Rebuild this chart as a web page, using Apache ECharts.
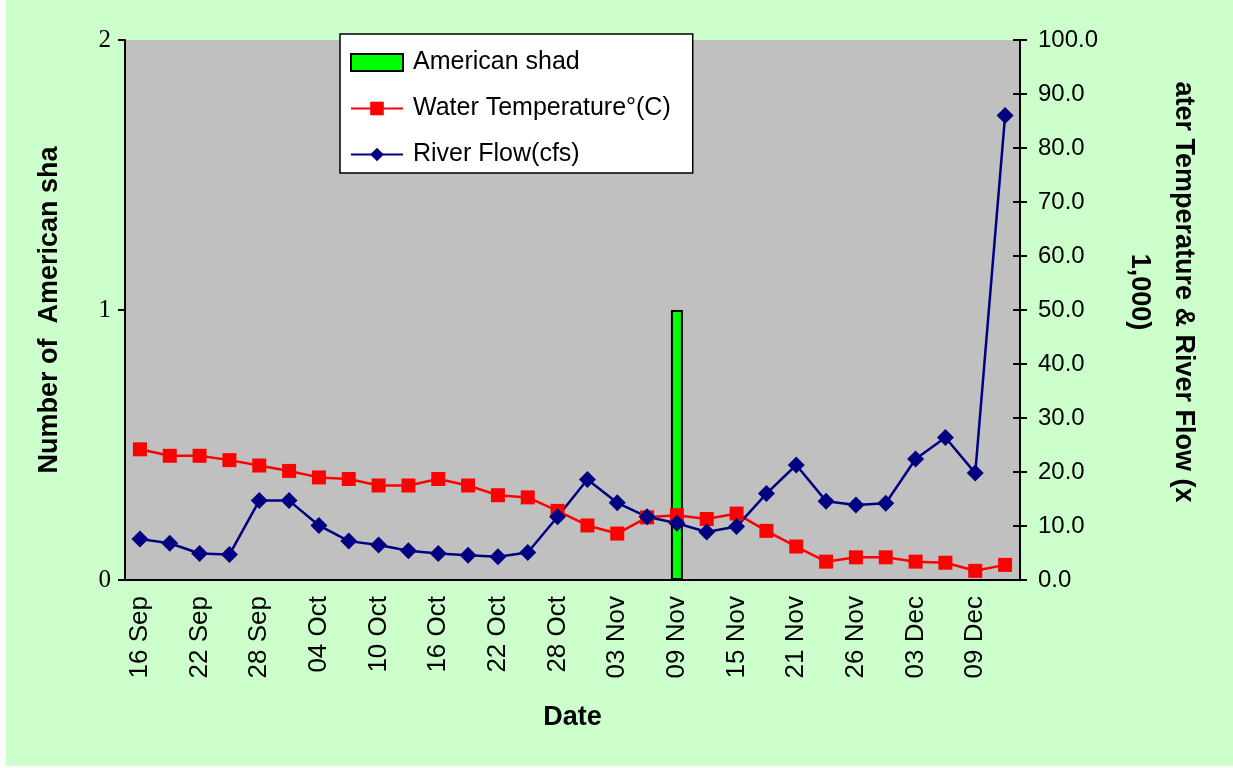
<!DOCTYPE html>
<html>
<head>
<meta charset="utf-8">
<script src="https://cdn.jsdelivr.net/npm/echarts@6/dist/echarts.min.js"></script>
<style>
  body { margin: 0; background: #ffffff; }
  #main { position: absolute; left: 6px; top: 0; width: 1227px; height: 766px; background: #CCFFCC; }
</style>
</head>
<body>
<div id="main"></div>
<script>
// sampling dates, every 3 days
var dates = ['16 Sep', '19 Sep', '22 Sep', '25 Sep', '28 Sep', '01 Oct', '04 Oct', '07 Oct', '10 Oct', '13 Oct',
    '16 Oct', '19 Oct', '22 Oct', '25 Oct', '28 Oct', '31 Oct', '03 Nov', '06 Nov', '09 Nov', '12 Nov',
    '15 Nov', '18 Nov', '21 Nov', '23 Nov', '26 Nov', '29 Nov', '03 Dec', '06 Dec', '09 Dec', '12 Dec'];

var shad = [null, null, null, null, null, null, null, null, null, null,
    null, null, null, null, null, null, null, null, 1, null,
    null, null, null, null, null, null, null, null, null, null];

var water_temp = [24.2, 23.0, 23.0, 22.2, 21.2, 20.2, 19.0, 18.7, 17.5, 17.5,
    18.7, 17.5, 15.7, 15.3, 12.8, 10.1, 8.6, 11.6, 12.0, 11.3,
    12.3, 9.1, 6.2, 3.4, 4.2, 4.2, 3.4, 3.2, 1.7, 2.8];

var river_flow = [7.6, 6.8, 4.9, 4.7, 14.7, 14.7, 10.1, 7.2, 6.5, 5.4,
    4.9, 4.6, 4.3, 5.1, 11.7, 18.6, 14.3, 11.7, 10.5, 8.9,
    9.9, 16.0, 21.3, 14.6, 13.9, 14.2, 22.4, 26.4, 19.8, 86.0];

var left_ticks = [0, 1, 2];
var right_ticks = [0, 10, 20, 30, 40, 50, 60, 70, 80, 90, 100];

var font = 'Arial, "Liberation Sans", sans-serif';
var myChart = echarts.init(document.getElementById('main'));

myChart.setOption({
    animation: false,
    legend: {
        orient: 'vertical',
        left: 334,
        top: 34,
        backgroundColor: '#ffffff',
        borderColor: '#000000',
        borderWidth: 1.5,
        borderRadius: 0,
        padding: [16, 22, 6, 10],
        itemGap: 21,
        itemWidth: 52,
        itemHeight: 17,
        textStyle: {fontFamily: font, fontSize: 25, color: '#000000', padding: [0, 0, 0, 5]},
        data: [
            {name: 'American shad', icon: 'rect'},
            'Water Temperature°(C)',
            'River Flow(cfs)'
        ]
    },
    grid: {
        left: 119,
        top: 40,
        width: 895,
        height: 540,
        show: true,
        backgroundColor: '#C0C0C0',
        borderWidth: 0
    },
    xAxis: {
        type: 'category',
        data: dates,
        boundaryGap: true,
        name: 'Date',
        nameLocation: 'middle',
        nameGap: 124,
        nameTextStyle: {fontFamily: font, fontSize: 27, fontWeight: 'bold', color: '#000000'},
        axisLine: {lineStyle: {color: '#000000', width: 2}},
        axisTick: {interval: 0, length: 7, lineStyle: {color: '#000000', width: 2}},
        axisLabel: {interval: 1, rotate: 90, margin: 16, fontFamily: font, fontSize: 26, color: '#000000'},
        splitLine: {show: false}
    },
    yAxis: [
        {
            type: 'value',
            position: 'left',
            min: 0,
            max: 2,
            interval: 1,
            name: 'Number of  American sha',
            nameLocation: 'middle',
            nameRotate: 90,
            nameGap: 62,
            nameTextStyle: {fontFamily: font, fontSize: 27, fontWeight: 'bold', color: '#000000'},
            axisLine: {show: true, lineStyle: {color: '#000000', width: 2}},
            axisTick: {show: true, length: 7, lineStyle: {color: '#000000', width: 2}},
            axisLabel: {margin: 14, fontFamily: '"Liberation Serif", "Times New Roman", serif', fontSize: 25, color: '#000000'},
            splitLine: {show: false}
        },
        {
            type: 'value',
            position: 'right',
            min: 0,
            max: 100,
            interval: 10,
            name: 'ater Temperature & River Flow (x\n1,000)',
            nameLocation: 'middle',
            nameRotate: -90,
            nameGap: 97,
            nameTextStyle: {fontFamily: font, fontSize: 27, fontWeight: 'bold', color: '#000000', lineHeight: 44, padding: [0, 36, 0, 0]},
            axisLine: {show: true, lineStyle: {color: '#000000', width: 2}},
            axisTick: {show: true, length: 7, lineStyle: {color: '#000000', width: 2}},
            axisLabel: {
                margin: 18, fontFamily: font, fontSize: 24, color: '#000000',
                formatter: function (v) { return v.toFixed(1); }
            },
            splitLine: {show: false}
        },
        {
            // inner half of the crossing ticks on the right axis
            type: 'value',
            position: 'right',
            min: 0,
            max: 100,
            interval: 10,
            axisLine: {show: false},
            axisTick: {show: true, inside: true, length: 7, lineStyle: {color: '#000000', width: 2}},
            axisLabel: {show: false},
            splitLine: {show: false}
        }
    ],
    series: [
        {
            name: 'American shad',
            type: 'bar',
            yAxisIndex: 0,
            barWidth: 12,
            itemStyle: {color: '#00FF00', borderColor: '#000000', borderWidth: 2},
            data: shad
        },
        {
            name: 'Water Temperature°(C)',
            type: 'line',
            yAxisIndex: 1,
            symbol: 'rect',
            symbolSize: 14,
            color: '#FF0000',
            lineStyle: {color: '#FF0000', width: 2.5},
            itemStyle: {color: '#FF0000'},
            data: water_temp
        },
        {
            name: 'River Flow(cfs)',
            type: 'line',
            yAxisIndex: 1,
            symbol: 'diamond',
            symbolSize: 17,
            color: '#000080',
            lineStyle: {color: '#000080', width: 2.5},
            itemStyle: {color: '#000080'},
            data: river_flow
        }
    ]
});
</script>
</body>
</html>
